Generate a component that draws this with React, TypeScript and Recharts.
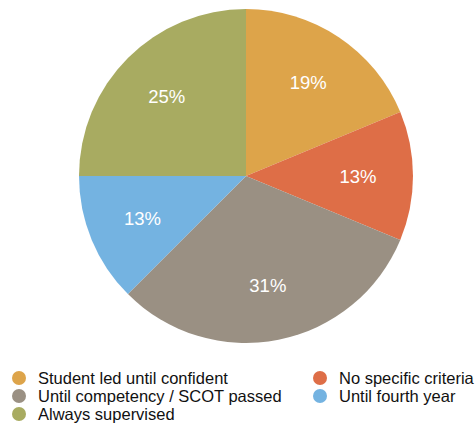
import { PieChart, Pie, Cell } from 'recharts'

const categories = [
  'Student led until confident',
  'No specific criteria',
  'Until competency / SCOT passed',
  'Until fourth year',
  'Always supervised',
]
const shares = [3, 2, 5, 2, 4]
const colors = ['#DDA44A', '#DE6E47', '#9A9083', '#74B3E1', '#A8AB61']

// legend order, as in the picture (left column then right column)
const legendLeft = [0, 2, 4]
const legendRight = [1, 3]

const data = categories.map((name, i) => ({ name, value: shares[i] }))

const RADIAN = Math.PI / 180

const renderLabel = (props: any) => {
  const { cx, cy, midAngle, percent } = props
  const r = 112
  const x = cx + r * Math.cos(-midAngle * RADIAN)
  const y = cy + r * Math.sin(-midAngle * RADIAN)
  return (
    <text
      x={x}
      y={y}
      fill="#fff"
      textAnchor="middle"
      dominantBaseline="central"
      fontSize={18.5}
      fontFamily="Liberation Sans, Arial, sans-serif"
    >
      {Math.round(percent * 100)}%
    </text>
  )
}

function LegendItem({ i }: { i: number }) {
  return (
    <div style={{ display: 'flex', alignItems: 'center', height: 18 }}>
      <span
        style={{
          width: 14,
          height: 14,
          borderRadius: 7,
          background: colors[i],
          marginRight: 12,
          flexShrink: 0,
        }}
      />
      <span>{categories[i]}</span>
    </div>
  )
}

export default function App() {
  return (
    <div
      style={{
        position: 'absolute',
        left: 0,
        top: 0,
        width: 475,
        height: 425,
        background: '#fff',
        fontFamily: 'Liberation Sans, Arial, sans-serif',
      }}
    >
      <PieChart width={475} height={360} margin={{ top: 0, right: 0, bottom: 0, left: 0 }}>
        <Pie
          data={data}
          dataKey="value"
          cx={246}
          cy={176}
          outerRadius={167}
          startAngle={90}
          endAngle={-270}
          stroke="none"
          label={renderLabel}
          labelLine={false}
          isAnimationActive={false}
        >
          {data.map((d, i) => (
            <Cell key={d.name} fill={colors[i]} />
          ))}
        </Pie>
      </PieChart>
      <div
        style={{
          position: 'absolute',
          left: 12,
          top: 369,
          fontSize: 16.5,
          color: '#111',
          display: 'flex',
        }}
      >
        <div style={{ width: 301 }}>
          {legendLeft.map((i) => (
            <LegendItem key={i} i={i} />
          ))}
        </div>
        <div>
          {legendRight.map((i) => (
            <LegendItem key={i} i={i} />
          ))}
        </div>
      </div>
    </div>
  )
}
